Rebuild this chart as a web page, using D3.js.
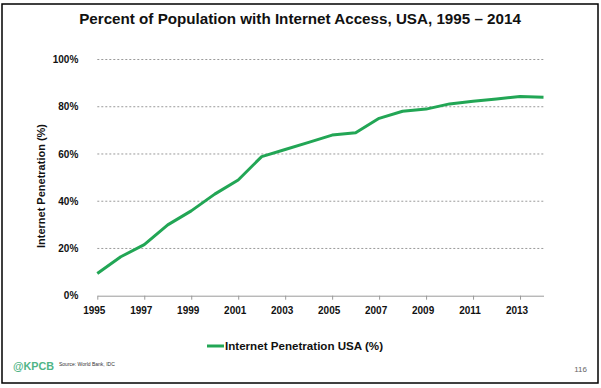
<!DOCTYPE html>
<html>
<head>
<meta charset="utf-8">
<script src="https://cdn.jsdelivr.net/npm/d3@7"></script>
<style>
  body { margin: 0; background: #fff; }
  svg { display: block; font-family: "Liberation Sans", Arial, sans-serif; }
</style>
</head>
<body>
<svg id="chart" width="601" height="388"></svg>
<script>
// Internet penetration USA, 1995–2014
const years = [1995, 1996, 1997, 1998, 1999, 2000, 2001, 2002, 2003, 2004,
               2005, 2006, 2007, 2008, 2009, 2010, 2011, 2012, 2013, 2014];
const penetration = [9.4, 16.5, 21.6, 30.0, 35.9, 43.0, 49.0, 58.9, 61.9, 64.9,
                     68.0, 69.0, 75.1, 78.1, 79.0, 81.2, 82.3, 83.3, 84.3, 84.0];
const yTicks = [0, 20, 40, 60, 80, 100];
const xTicks = [1995, 1997, 1999, 2001, 2003, 2005, 2007, 2009, 2011, 2013];

const titleText = 'Percent of Population with Internet Access, USA, 1995 \u2013 2014';
const yTitle = 'Internet Penetration (%)';
const legendLabel = 'Internet Penetration USA (%)';
const sourceText = 'Source: World Bank, IDC';
const pageNum = '116';

const GREEN = '#22a655';
const svg = d3.select('#chart');

// slide frame
svg.append('rect')
    .attr('x', 2).attr('y', 4).attr('width', 596).attr('height', 379)
    .attr('fill', 'none').attr('stroke', '#000').attr('stroke-width', 1.5);

svg.append('text')
    .attr('x', 300).attr('y', 24)
    .attr('text-anchor', 'middle')
    .attr('font-size', 15.2).attr('font-weight', 'bold')
    .attr('fill', '#111')
    .text(titleText);

const x = d3.scaleLinear().domain([1995, 2014]).range([97.3, 543.5]);
const y = d3.scaleLinear().domain([0, 100]).range([295.7, 59.5]);

// dotted gridlines
svg.append('g')
    .selectAll('line')
    .data(yTicks.filter(d => d > 0))
    .join('line')
    .attr('x1', x(1995)).attr('x2', x(2014))
    .attr('y1', d => y(d)).attr('y2', d => y(d))
    .attr('stroke', '#9a9a9a').attr('stroke-width', 1)
    .attr('stroke-dasharray', '2,2');

// y labels (no axis line)
const yAxis = svg.append('g')
    .attr('transform', `translate(${x(1995)},0)`)
    .call(d3.axisLeft(y).tickValues(yTicks).tickFormat(d => d + '%').tickSize(0).tickPadding(19));
yAxis.select('.domain').remove();
yAxis.selectAll('text')
    .attr('font-size', 10).attr('font-weight', 'bold').attr('fill', '#111')
    .attr('font-family', '"Liberation Sans", Arial, sans-serif');

// x axis
const xAxis = svg.append('g')
    .attr('transform', `translate(0,${y(0)})`)
    .call(d3.axisBottom(x).tickValues(xTicks).tickFormat(d3.format('d'))
        .tickSizeInner(4).tickSizeOuter(0).tickPadding(7));
xAxis.select('.domain').attr('stroke', '#9a9a9a');
xAxis.selectAll('.tick line').attr('stroke', '#9a9a9a');
xAxis.selectAll('text')
    .attr('x', -3.5)
    .attr('font-size', 10).attr('font-weight', 'bold').attr('fill', '#111')
    .attr('font-family', '"Liberation Sans", Arial, sans-serif');

// y axis title
svg.append('text')
    .attr('transform', `translate(45,186) rotate(-90)`)
    .attr('text-anchor', 'middle')
    .attr('font-size', 11).attr('font-weight', 'bold').attr('fill', '#111')
    .text(yTitle);

// series line
const data = years.map((yr, i) => ({ year: yr, value: penetration[i] }));
svg.append('path')
    .datum(data)
    .attr('fill', 'none')
    .attr('stroke', GREEN).attr('stroke-width', 3)
    .attr('stroke-linejoin', 'round')
    .attr('d', d3.line().x(d => x(d.year)).y(d => y(d.value)));

// legend
const lg = svg.append('g').attr('transform', 'translate(207,346)');
lg.append('line').attr('x1', 0).attr('x2', 17).attr('y1', 0).attr('y2', 0)
    .attr('stroke', GREEN).attr('stroke-width', 3);
lg.append('text')
    .attr('x', 18).attr('y', 4.2)
    .attr('font-size', 11.6).attr('font-weight', 'bold').attr('fill', '#111')
    .text(legendLabel);

// footer (logo is a narrow face on the slide)
svg.append('text')
    .attr('x', 13).attr('y', 370)
    .attr('font-size', 11.5).attr('font-weight', 'bold')
    .attr('textLength', 41).attr('lengthAdjust', 'spacingAndGlyphs')
    .attr('fill', '#4fb587')
    .text('@KPCB');
svg.append('text')
    .attr('x', 59).attr('y', 366)
    .attr('font-size', 5).attr('fill', '#333')
    .text(sourceText);
svg.append('text')
    .attr('x', 587).attr('y', 372)
    .attr('text-anchor', 'end')
    .attr('font-size', 8).attr('fill', '#666')
    .text(pageNum);
</script>
</body>
</html>
